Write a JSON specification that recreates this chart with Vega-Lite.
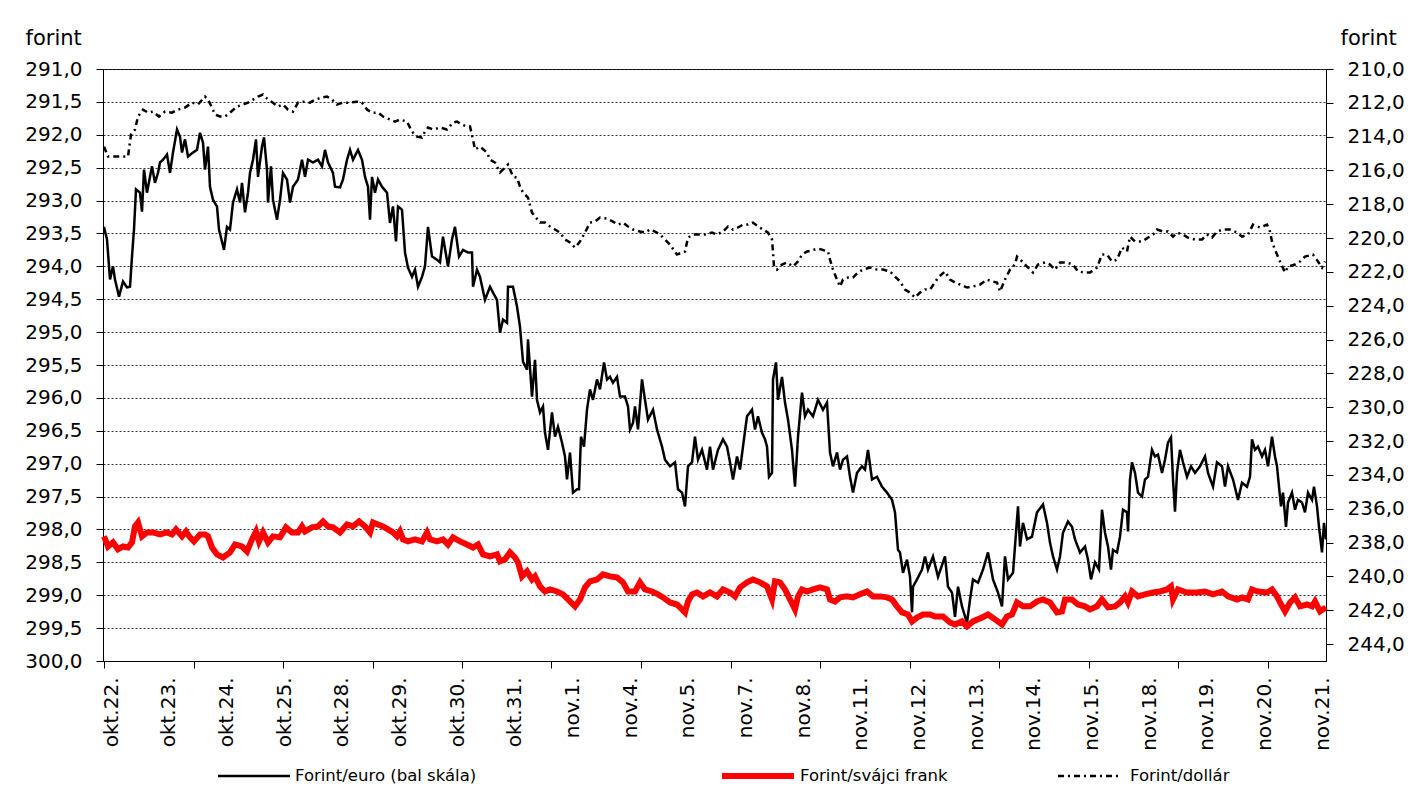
{
"$schema": "https://vega.github.io/schema/vega-lite/v6.json",
"width": 1223,
"height": 592,
"autosize": {"type": "none"},
"padding": {"left": 103, "top": 69, "right": 94, "bottom": 135},
"background": "white",
"config": {
  "font": "DejaVu Sans",
  "view": {"stroke": "black", "strokeWidth": 1},
  "axis": {"labelFont": "DejaVu Sans", "labelColor": "black", "titleColor": "black", "domainColor": "black", "tickColor": "black", "labelFontSize": 20, "titleFont": "DejaVu Sans", "titleFontWeight": "normal", "titleFontSize": 21},
  "legend": {"labelFont": "DejaVu Sans", "labelFontSize": 16.5, "labelColor": "black", "labelLimit": 400}
},
"datasets": {
"eur": [{"t":0,"v":293.40},{"t":3,"v":293.59},{"t":6,"v":294.20},{"t":9,"v":294.00},{"t":11,"v":294.20},{"t":15,"v":294.46},{"t":19,"v":294.23},{"t":23,"v":294.32},{"t":26,"v":294.31},{"t":28,"v":293.85},{"t":30,"v":293.44},{"t":32,"v":292.83},{"t":36,"v":292.88},{"t":38,"v":293.17},{"t":40,"v":292.53},{"t":43,"v":292.88},{"t":46,"v":292.64},{"t":48,"v":292.48},{"t":51,"v":292.73},{"t":54,"v":292.58},{"t":56,"v":292.42},{"t":59,"v":292.38},{"t":63,"v":292.30},{"t":66,"v":292.58},{"t":69,"v":292.27},{"t":73,"v":291.92},{"t":76,"v":292.03},{"t":78,"v":292.27},{"t":81,"v":292.07},{"t":84,"v":292.33},{"t":89,"v":292.27},{"t":93,"v":292.23},{"t":96,"v":291.97},{"t":99,"v":292.12},{"t":101,"v":292.53},{"t":104,"v":292.18},{"t":106,"v":292.79},{"t":109,"v":292.99},{"t":113,"v":293.09},{"t":115,"v":293.44},{"t":120,"v":293.75},{"t":123,"v":293.40},{"t":126,"v":293.44},{"t":129,"v":293.03},{"t":133,"v":292.83},{"t":136,"v":293.03},{"t":138,"v":292.73},{"t":141,"v":293.18},{"t":144,"v":292.88},{"t":146,"v":292.58},{"t":149,"v":292.38},{"t":152,"v":292.07},{"t":154,"v":292.64},{"t":158,"v":292.18},{"t":160,"v":292.04},{"t":163,"v":292.53},{"t":164,"v":293.03},{"t":167,"v":292.48},{"t":169,"v":292.99},{"t":173,"v":293.29},{"t":176,"v":292.99},{"t":179,"v":292.58},{"t":183,"v":292.68},{"t":186,"v":293.03},{"t":189,"v":292.79},{"t":194,"v":292.68},{"t":198,"v":292.38},{"t":201,"v":292.64},{"t":204,"v":292.38},{"t":209,"v":292.42},{"t":214,"v":292.38},{"t":218,"v":292.48},{"t":221,"v":292.23},{"t":224,"v":292.42},{"t":229,"v":292.58},{"t":231,"v":292.79},{"t":236,"v":292.80},{"t":239,"v":292.68},{"t":243,"v":292.38},{"t":246,"v":292.23},{"t":249,"v":292.38},{"t":254,"v":292.23},{"t":258,"v":292.38},{"t":261,"v":292.64},{"t":264,"v":292.79},{"t":266,"v":293.29},{"t":268,"v":292.64},{"t":271,"v":292.88},{"t":274,"v":292.68},{"t":278,"v":292.79},{"t":283,"v":292.88},{"t":286,"v":293.34},{"t":289,"v":293.09},{"t":292,"v":293.62},{"t":294,"v":293.09},{"t":298,"v":293.14},{"t":301,"v":293.79},{"t":304,"v":294.02},{"t":308,"v":294.16},{"t":311,"v":294.05},{"t":314,"v":294.31},{"t":318,"v":294.16},{"t":321,"v":294.00},{"t":324,"v":293.40},{"t":328,"v":293.85},{"t":333,"v":293.90},{"t":336,"v":293.94},{"t":339,"v":293.55},{"t":344,"v":294.00},{"t":348,"v":293.59},{"t":351,"v":293.40},{"t":355,"v":293.85},{"t":359,"v":293.75},{"t":364,"v":293.79},{"t":368,"v":293.79},{"t":369,"v":294.31},{"t":373,"v":294.05},{"t":376,"v":294.16},{"t":381,"v":294.51},{"t":386,"v":294.31},{"t":389,"v":294.40},{"t":393,"v":294.51},{"t":396,"v":295.01},{"t":399,"v":294.81},{"t":403,"v":294.86},{"t":404,"v":294.31},{"t":409,"v":294.31},{"t":413,"v":294.61},{"t":416,"v":294.92},{"t":419,"v":295.45},{"t":423,"v":295.57},{"t":424,"v":295.11},{"t":428,"v":295.98},{"t":431,"v":295.42},{"t":433,"v":296.03},{"t":436,"v":296.22},{"t":439,"v":296.13},{"t":441,"v":296.53},{"t":444,"v":296.79},{"t":448,"v":296.22},{"t":451,"v":296.59},{"t":454,"v":296.44},{"t":458,"v":296.68},{"t":461,"v":296.89},{"t":463,"v":297.24},{"t":466,"v":296.83},{"t":469,"v":297.44},{"t":473,"v":297.39},{"t":475,"v":297.39},{"t":477,"v":296.59},{"t":480,"v":296.74},{"t":483,"v":296.18},{"t":486,"v":295.87},{"t":489,"v":296.03},{"t":493,"v":295.72},{"t":496,"v":295.87},{"t":500,"v":295.46},{"t":503,"v":295.72},{"t":506,"v":295.68},{"t":509,"v":295.77},{"t":513,"v":295.68},{"t":516,"v":295.98},{"t":521,"v":295.98},{"t":524,"v":296.13},{"t":526,"v":296.48},{"t":529,"v":296.38},{"t":531,"v":296.13},{"t":534,"v":296.48},{"t":538,"v":295.72},{"t":541,"v":296.03},{"t":544,"v":296.33},{"t":549,"v":296.18},{"t":553,"v":296.48},{"t":558,"v":296.74},{"t":561,"v":296.94},{"t":566,"v":297.04},{"t":571,"v":296.98},{"t":574,"v":297.39},{"t":578,"v":297.44},{"t":581,"v":297.65},{"t":584,"v":297.04},{"t":588,"v":296.98},{"t":591,"v":296.59},{"t":594,"v":296.94},{"t":598,"v":296.79},{"t":603,"v":297.09},{"t":606,"v":296.74},{"t":609,"v":297.09},{"t":614,"v":296.79},{"t":619,"v":296.63},{"t":623,"v":296.74},{"t":626,"v":296.98},{"t":629,"v":297.24},{"t":633,"v":296.89},{"t":636,"v":297.09},{"t":639,"v":296.74},{"t":643,"v":296.28},{"t":648,"v":296.18},{"t":651,"v":296.48},{"t":654,"v":296.28},{"t":658,"v":296.53},{"t":661,"v":296.63},{"t":663,"v":296.74},{"t":665,"v":297.20},{"t":668,"v":297.14},{"t":669,"v":295.72},{"t":672,"v":295.46},{"t":674,"v":296.03},{"t":678,"v":295.68},{"t":681,"v":296.07},{"t":684,"v":296.33},{"t":688,"v":296.79},{"t":691,"v":297.35},{"t":694,"v":296.59},{"t":698,"v":295.92},{"t":701,"v":296.28},{"t":704,"v":296.18},{"t":709,"v":296.28},{"t":714,"v":296.03},{"t":719,"v":296.18},{"t":723,"v":296.07},{"t":726,"v":296.83},{"t":729,"v":297.04},{"t":733,"v":296.83},{"t":736,"v":297.09},{"t":739,"v":296.94},{"t":743,"v":296.89},{"t":746,"v":297.20},{"t":749,"v":297.44},{"t":753,"v":297.14},{"t":758,"v":297.04},{"t":761,"v":297.09},{"t":764,"v":296.79},{"t":768,"v":297.24},{"t":773,"v":297.20},{"t":778,"v":297.35},{"t":783,"v":297.44},{"t":788,"v":297.55},{"t":791,"v":297.74},{"t":794,"v":298.31},{"t":796,"v":298.35},{"t":799,"v":298.66},{"t":803,"v":298.46},{"t":806,"v":298.72},{"t":808,"v":299.26},{"t":809,"v":298.87},{"t":813,"v":298.76},{"t":818,"v":298.61},{"t":821,"v":298.41},{"t":824,"v":298.61},{"t":829,"v":298.41},{"t":834,"v":298.72},{"t":841,"v":298.41},{"t":844,"v":298.87},{"t":848,"v":298.96},{"t":851,"v":299.33},{"t":854,"v":298.87},{"t":858,"v":299.17},{"t":863,"v":299.42},{"t":866,"v":299.07},{"t":869,"v":298.76},{"t":874,"v":298.81},{"t":879,"v":298.61},{"t":884,"v":298.35},{"t":889,"v":298.76},{"t":894,"v":298.96},{"t":898,"v":299.17},{"t":901,"v":298.41},{"t":904,"v":298.76},{"t":909,"v":298.66},{"t":912,"v":298.05},{"t":914,"v":297.65},{"t":916,"v":298.26},{"t":919,"v":297.90},{"t":923,"v":298.15},{"t":928,"v":298.11},{"t":933,"v":297.74},{"t":939,"v":297.62},{"t":943,"v":297.90},{"t":946,"v":298.20},{"t":949,"v":298.41},{"t":953,"v":298.61},{"t":956,"v":298.41},{"t":959,"v":298.05},{"t":964,"v":297.88},{"t":968,"v":297.96},{"t":971,"v":298.15},{"t":976,"v":298.35},{"t":981,"v":298.26},{"t":984,"v":298.46},{"t":987,"v":298.76},{"t":991,"v":298.50},{"t":995,"v":298.61},{"t":998,"v":297.70},{"t":1001,"v":298.05},{"t":1004,"v":298.26},{"t":1007,"v":298.61},{"t":1009,"v":298.31},{"t":1013,"v":298.35},{"t":1016,"v":298.11},{"t":1019,"v":297.70},{"t":1023,"v":297.74},{"t":1024,"v":298.03},{"t":1026,"v":297.24},{"t":1028,"v":296.98},{"t":1031,"v":297.14},{"t":1034,"v":297.44},{"t":1038,"v":297.50},{"t":1041,"v":297.24},{"t":1044,"v":297.20},{"t":1048,"v":296.79},{"t":1051,"v":296.89},{"t":1054,"v":296.86},{"t":1058,"v":297.14},{"t":1061,"v":296.94},{"t":1064,"v":296.68},{"t":1067,"v":296.60},{"t":1069,"v":297.24},{"t":1071,"v":297.73},{"t":1073,"v":297.14},{"t":1076,"v":296.79},{"t":1079,"v":296.98},{"t":1083,"v":297.20},{"t":1087,"v":297.04},{"t":1091,"v":297.14},{"t":1096,"v":297.04},{"t":1101,"v":296.89},{"t":1104,"v":297.14},{"t":1109,"v":297.35},{"t":1113,"v":296.98},{"t":1118,"v":297.04},{"t":1121,"v":297.35},{"t":1124,"v":297.04},{"t":1129,"v":297.24},{"t":1134,"v":297.55},{"t":1138,"v":297.29},{"t":1143,"v":297.35},{"t":1146,"v":297.20},{"t":1148,"v":296.63},{"t":1151,"v":296.79},{"t":1154,"v":296.74},{"t":1158,"v":296.89},{"t":1161,"v":296.79},{"t":1164,"v":297.04},{"t":1168,"v":296.59},{"t":1171,"v":296.89},{"t":1173,"v":297.04},{"t":1175,"v":297.35},{"t":1177,"v":297.65},{"t":1179,"v":297.44},{"t":1182,"v":297.96},{"t":1184,"v":297.59},{"t":1188,"v":297.44},{"t":1191,"v":297.70},{"t":1194,"v":297.55},{"t":1198,"v":297.59},{"t":1201,"v":297.74},{"t":1204,"v":297.44},{"t":1208,"v":297.55},{"t":1210,"v":297.35},{"t":1213,"v":297.65},{"t":1215,"v":297.96},{"t":1218,"v":298.35},{"t":1220,"v":297.90},{"t":1222,"v":298.15}],
"chf": [{"t":0,"v":237.63},{"t":4,"v":238.23},{"t":9,"v":237.99},{"t":14,"v":238.40},{"t":19,"v":238.23},{"t":24,"v":238.29},{"t":28,"v":237.99},{"t":31,"v":237.04},{"t":34,"v":236.81},{"t":38,"v":237.63},{"t":43,"v":237.40},{"t":49,"v":237.40},{"t":56,"v":237.52},{"t":63,"v":237.40},{"t":68,"v":237.52},{"t":72,"v":237.22},{"t":78,"v":237.63},{"t":82,"v":237.34},{"t":86,"v":237.69},{"t":90,"v":237.93},{"t":96,"v":237.52},{"t":101,"v":237.52},{"t":104,"v":237.63},{"t":108,"v":238.29},{"t":113,"v":238.70},{"t":119,"v":238.88},{"t":126,"v":238.58},{"t":131,"v":238.11},{"t":138,"v":238.23},{"t":143,"v":238.52},{"t":148,"v":237.81},{"t":152,"v":237.34},{"t":155,"v":237.93},{"t":159,"v":237.40},{"t":164,"v":237.99},{"t":169,"v":237.63},{"t":176,"v":237.69},{"t":182,"v":237.10},{"t":188,"v":237.40},{"t":194,"v":237.40},{"t":198,"v":237.04},{"t":201,"v":237.34},{"t":208,"v":237.10},{"t":214,"v":237.04},{"t":219,"v":236.75},{"t":224,"v":237.04},{"t":229,"v":237.10},{"t":236,"v":237.40},{"t":243,"v":236.93},{"t":249,"v":237.04},{"t":255,"v":236.75},{"t":261,"v":237.04},{"t":266,"v":237.40},{"t":269,"v":236.81},{"t":274,"v":236.93},{"t":279,"v":237.04},{"t":284,"v":237.22},{"t":289,"v":237.40},{"t":293,"v":237.63},{"t":296,"v":237.34},{"t":299,"v":237.81},{"t":304,"v":237.93},{"t":311,"v":237.81},{"t":318,"v":237.93},{"t":323,"v":237.40},{"t":326,"v":237.81},{"t":333,"v":237.93},{"t":339,"v":237.81},{"t":344,"v":238.11},{"t":349,"v":237.69},{"t":356,"v":237.93},{"t":363,"v":238.11},{"t":369,"v":238.29},{"t":374,"v":238.11},{"t":379,"v":238.70},{"t":386,"v":238.82},{"t":393,"v":238.70},{"t":396,"v":239.11},{"t":401,"v":238.99},{"t":406,"v":238.58},{"t":411,"v":238.88},{"t":414,"v":239.17},{"t":418,"v":240.00},{"t":423,"v":239.70},{"t":428,"v":240.18},{"t":431,"v":240.00},{"t":436,"v":240.59},{"t":441,"v":240.89},{"t":446,"v":240.77},{"t":453,"v":240.89},{"t":459,"v":241.06},{"t":466,"v":241.48},{"t":471,"v":241.77},{"t":476,"v":241.36},{"t":481,"v":240.65},{"t":486,"v":240.29},{"t":493,"v":240.18},{"t":499,"v":239.88},{"t":506,"v":240.00},{"t":513,"v":240.06},{"t":519,"v":240.35},{"t":524,"v":240.89},{"t":531,"v":240.89},{"t":536,"v":240.35},{"t":541,"v":240.77},{"t":548,"v":240.89},{"t":554,"v":241.06},{"t":559,"v":241.24},{"t":566,"v":241.54},{"t":573,"v":241.66},{"t":578,"v":241.95},{"t":581,"v":242.13},{"t":584,"v":241.48},{"t":588,"v":241.06},{"t":593,"v":240.95},{"t":599,"v":241.18},{"t":606,"v":240.95},{"t":613,"v":241.18},{"t":619,"v":240.77},{"t":626,"v":240.95},{"t":631,"v":241.18},{"t":636,"v":240.65},{"t":643,"v":240.35},{"t":649,"v":240.18},{"t":656,"v":240.35},{"t":663,"v":240.59},{"t":668,"v":241.36},{"t":671,"v":240.29},{"t":676,"v":240.35},{"t":681,"v":240.77},{"t":686,"v":241.36},{"t":691,"v":241.95},{"t":694,"v":241.18},{"t":698,"v":240.77},{"t":703,"v":240.89},{"t":709,"v":240.77},{"t":716,"v":240.65},{"t":723,"v":240.77},{"t":726,"v":241.36},{"t":731,"v":241.48},{"t":736,"v":241.24},{"t":743,"v":241.18},{"t":749,"v":241.24},{"t":756,"v":241.06},{"t":763,"v":240.89},{"t":769,"v":241.18},{"t":776,"v":241.18},{"t":783,"v":241.24},{"t":788,"v":241.36},{"t":793,"v":241.77},{"t":798,"v":242.13},{"t":804,"v":242.25},{"t":808,"v":242.66},{"t":813,"v":242.43},{"t":819,"v":242.25},{"t":826,"v":242.25},{"t":831,"v":242.37},{"t":839,"v":242.37},{"t":846,"v":242.72},{"t":851,"v":242.84},{"t":858,"v":242.66},{"t":863,"v":242.96},{"t":869,"v":242.66},{"t":878,"v":242.43},{"t":884,"v":242.25},{"t":891,"v":242.54},{"t":898,"v":242.84},{"t":903,"v":242.37},{"t":908,"v":242.25},{"t":913,"v":241.54},{"t":919,"v":241.77},{"t":926,"v":241.77},{"t":933,"v":241.48},{"t":939,"v":241.36},{"t":946,"v":241.54},{"t":953,"v":242.13},{"t":958,"v":242.07},{"t":961,"v":241.36},{"t":968,"v":241.36},{"t":974,"v":241.66},{"t":981,"v":241.77},{"t":986,"v":241.95},{"t":993,"v":241.77},{"t":998,"v":241.36},{"t":1004,"v":241.83},{"t":1011,"v":241.77},{"t":1016,"v":241.54},{"t":1021,"v":241.18},{"t":1024,"v":241.54},{"t":1028,"v":240.89},{"t":1034,"v":241.18},{"t":1041,"v":241.06},{"t":1049,"v":240.95},{"t":1056,"v":240.89},{"t":1063,"v":240.77},{"t":1067,"v":240.59},{"t":1069,"v":241.36},{"t":1074,"v":240.77},{"t":1083,"v":240.95},{"t":1093,"v":240.95},{"t":1101,"v":240.89},{"t":1109,"v":241.06},{"t":1118,"v":240.89},{"t":1124,"v":241.18},{"t":1133,"v":241.36},{"t":1138,"v":241.24},{"t":1144,"v":241.36},{"t":1148,"v":240.77},{"t":1154,"v":240.89},{"t":1163,"v":240.95},{"t":1168,"v":240.77},{"t":1173,"v":241.18},{"t":1176,"v":241.54},{"t":1181,"v":242.07},{"t":1186,"v":241.54},{"t":1191,"v":241.24},{"t":1196,"v":241.77},{"t":1203,"v":241.66},{"t":1208,"v":241.77},{"t":1211,"v":241.48},{"t":1216,"v":242.07},{"t":1222,"v":241.83}],
"usd": [{"t":0,"v":214.59},{"t":4,"v":215.18},{"t":11,"v":215.18},{"t":18,"v":215.18},{"t":24,"v":215.18},{"t":27,"v":213.88},{"t":31,"v":213.58},{"t":34,"v":212.81},{"t":39,"v":212.40},{"t":44,"v":212.58},{"t":49,"v":212.52},{"t":55,"v":212.81},{"t":61,"v":212.52},{"t":68,"v":212.58},{"t":74,"v":212.40},{"t":81,"v":212.28},{"t":88,"v":211.99},{"t":94,"v":212.10},{"t":101,"v":211.63},{"t":104,"v":211.81},{"t":108,"v":212.28},{"t":111,"v":212.69},{"t":116,"v":212.81},{"t":121,"v":212.81},{"t":126,"v":212.58},{"t":133,"v":212.22},{"t":139,"v":212.10},{"t":144,"v":211.99},{"t":149,"v":211.81},{"t":154,"v":211.63},{"t":159,"v":211.51},{"t":164,"v":211.81},{"t":169,"v":211.99},{"t":174,"v":212.22},{"t":179,"v":212.10},{"t":184,"v":212.40},{"t":189,"v":212.52},{"t":194,"v":211.99},{"t":199,"v":211.93},{"t":206,"v":211.99},{"t":211,"v":211.81},{"t":218,"v":211.69},{"t":223,"v":211.63},{"t":228,"v":211.81},{"t":233,"v":212.10},{"t":239,"v":211.99},{"t":246,"v":211.99},{"t":253,"v":211.93},{"t":258,"v":211.99},{"t":263,"v":212.40},{"t":268,"v":212.58},{"t":274,"v":212.58},{"t":279,"v":212.81},{"t":286,"v":212.99},{"t":291,"v":213.11},{"t":296,"v":212.99},{"t":303,"v":213.11},{"t":308,"v":213.70},{"t":313,"v":214.00},{"t":318,"v":214.05},{"t":321,"v":213.70},{"t":324,"v":213.46},{"t":329,"v":213.58},{"t":336,"v":213.46},{"t":343,"v":213.58},{"t":349,"v":213.17},{"t":353,"v":213.11},{"t":358,"v":213.29},{"t":363,"v":213.40},{"t":366,"v":213.40},{"t":369,"v":214.17},{"t":371,"v":214.76},{"t":376,"v":214.59},{"t":383,"v":214.94},{"t":386,"v":215.36},{"t":391,"v":215.53},{"t":396,"v":216.12},{"t":401,"v":215.83},{"t":404,"v":215.65},{"t":409,"v":216.36},{"t":413,"v":216.42},{"t":416,"v":216.95},{"t":419,"v":217.30},{"t":424,"v":217.60},{"t":428,"v":218.49},{"t":431,"v":218.72},{"t":436,"v":219.08},{"t":441,"v":219.08},{"t":446,"v":219.31},{"t":451,"v":219.49},{"t":456,"v":219.67},{"t":461,"v":220.08},{"t":466,"v":220.26},{"t":471,"v":220.56},{"t":476,"v":220.20},{"t":481,"v":219.67},{"t":486,"v":219.08},{"t":491,"v":219.02},{"t":496,"v":218.78},{"t":503,"v":218.84},{"t":509,"v":219.02},{"t":514,"v":219.20},{"t":519,"v":219.08},{"t":524,"v":219.31},{"t":529,"v":219.49},{"t":536,"v":219.61},{"t":541,"v":219.67},{"t":546,"v":219.49},{"t":551,"v":219.61},{"t":556,"v":219.79},{"t":561,"v":220.08},{"t":566,"v":220.38},{"t":573,"v":220.97},{"t":578,"v":220.85},{"t":581,"v":220.79},{"t":584,"v":219.97},{"t":589,"v":219.79},{"t":594,"v":219.79},{"t":601,"v":219.79},{"t":608,"v":219.67},{"t":613,"v":219.79},{"t":619,"v":219.61},{"t":624,"v":219.31},{"t":629,"v":219.49},{"t":634,"v":219.37},{"t":639,"v":219.20},{"t":644,"v":219.20},{"t":649,"v":219.08},{"t":654,"v":219.31},{"t":659,"v":219.49},{"t":664,"v":219.67},{"t":668,"v":220.08},{"t":669,"v":220.85},{"t":670,"v":221.68},{"t":673,"v":221.86},{"t":678,"v":221.56},{"t":683,"v":221.44},{"t":689,"v":221.68},{"t":694,"v":221.38},{"t":698,"v":220.97},{"t":703,"v":220.79},{"t":708,"v":220.73},{"t":713,"v":220.62},{"t":718,"v":220.68},{"t":724,"v":220.79},{"t":726,"v":221.27},{"t":729,"v":221.86},{"t":733,"v":222.45},{"t":736,"v":222.86},{"t":739,"v":222.45},{"t":744,"v":222.33},{"t":749,"v":222.33},{"t":754,"v":222.03},{"t":759,"v":221.86},{"t":766,"v":221.74},{"t":773,"v":221.86},{"t":779,"v":221.86},{"t":786,"v":221.97},{"t":791,"v":222.27},{"t":796,"v":222.56},{"t":801,"v":223.04},{"t":806,"v":223.22},{"t":811,"v":223.51},{"t":816,"v":223.22},{"t":821,"v":223.04},{"t":826,"v":223.04},{"t":831,"v":222.62},{"t":834,"v":222.33},{"t":841,"v":221.97},{"t":846,"v":222.45},{"t":851,"v":222.62},{"t":856,"v":222.74},{"t":863,"v":222.92},{"t":869,"v":222.86},{"t":876,"v":222.74},{"t":883,"v":222.45},{"t":888,"v":222.56},{"t":893,"v":222.62},{"t":896,"v":223.16},{"t":901,"v":222.45},{"t":906,"v":221.86},{"t":911,"v":221.56},{"t":913,"v":221.09},{"t":918,"v":221.38},{"t":923,"v":221.68},{"t":929,"v":222.03},{"t":934,"v":221.56},{"t":941,"v":221.44},{"t":946,"v":221.56},{"t":951,"v":221.86},{"t":956,"v":221.44},{"t":963,"v":221.44},{"t":969,"v":221.56},{"t":974,"v":221.97},{"t":981,"v":222.03},{"t":986,"v":222.03},{"t":993,"v":221.74},{"t":998,"v":220.97},{"t":1003,"v":220.97},{"t":1008,"v":221.38},{"t":1013,"v":221.27},{"t":1018,"v":220.56},{"t":1023,"v":220.79},{"t":1026,"v":219.91},{"t":1031,"v":220.20},{"t":1038,"v":220.20},{"t":1044,"v":219.97},{"t":1049,"v":219.79},{"t":1053,"v":219.49},{"t":1059,"v":219.61},{"t":1064,"v":219.61},{"t":1069,"v":219.91},{"t":1073,"v":219.67},{"t":1079,"v":219.79},{"t":1084,"v":219.97},{"t":1091,"v":220.08},{"t":1098,"v":220.08},{"t":1103,"v":219.79},{"t":1108,"v":219.97},{"t":1113,"v":219.61},{"t":1119,"v":219.49},{"t":1126,"v":219.49},{"t":1133,"v":219.67},{"t":1138,"v":219.91},{"t":1144,"v":219.79},{"t":1149,"v":219.20},{"t":1156,"v":219.37},{"t":1163,"v":219.20},{"t":1166,"v":219.61},{"t":1168,"v":220.20},{"t":1171,"v":220.68},{"t":1176,"v":221.38},{"t":1181,"v":222.03},{"t":1184,"v":221.68},{"t":1191,"v":221.56},{"t":1196,"v":221.38},{"t":1201,"v":221.09},{"t":1209,"v":220.97},{"t":1214,"v":221.38},{"t":1218,"v":221.74},{"t":1221,"v":221.38}]
},
"layer": [
  {
    "data": {"name": "eur"},
    "mark": {"type": "line", "strokeWidth": 2.5, "color": "#000000"},
    "encoding": {
      "x": {"field": "t", "type": "quantitative", "scale": {"domain": [-1, 1222], "nice": false, "zero": false},
        "axis": {"orient": "bottom", "title": null, "grid": false, "ticks": false, "tickSize": 0, "domain": true, "domainColor": "black", "labelPadding": 16, "labelAngle": 270, "labelAlign": "right", "labelBaseline": "middle", "labelFontSize": 20, "labelOverlap": false,
          "values": [7, 64.7, 122.4, 180, 237.7, 295.4, 353.1, 410.8, 468.4, 526.1, 583.8, 641.5, 699.2, 756.8, 814.5, 872.2, 929.9, 987.6, 1045.2, 1102.9, 1160.6, 1218.3],
          "labelExpr": "['okt.22.','okt.23.','okt.24.','okt.25.','okt.28.','okt.29.','okt.30.','okt.31.','nov.1.','nov.4.','nov.5.','nov.7.','nov.8.','nov.11.','nov.12.','nov.13.','nov.14.','nov.15.','nov.18.','nov.19.','nov.20.','nov.21.'][round((datum.value - 7) / 57.68)]"}},
      "y": {"field": "v", "type": "quantitative", "scale": {"domain": [291, 300], "reverse": true, "nice": false, "zero": false},
        "axis": {"orient": "left", "values": [291, 291.5, 292, 292.5, 293, 293.5, 294, 294.5, 295, 295.5, 296, 296.5, 297, 297.5, 298, 298.5, 299, 299.5, 300],
          "labelExpr": "replace(format(datum.value, '.1f'), '.', ',')", "tickSize": 7, "labelPadding": 14, "grid": true, "gridColor": "#333333", "gridDash": [2, 2], "gridWidth": 1, "domainColor": "black",
          "title": "forint", "titleAngle": 0, "titleAlign": "left", "titleBaseline": "alphabetic", "titleX": -78, "titleY": -25}},
      "strokeDash": {"datum": "Forint/euro (bal skála)",
        "scale": {"domain": ["Forint/euro (bal skála)"], "range": [[1, 0]]},
        "legend": {"orient": "none", "legendX": 113.5, "legendY": 669.5, "title": null, "symbolType": "stroke", "symbolSize": 5184, "symbolStrokeColor": "#000000", "symbolStrokeWidth": 2.5, "labelOffset": 3.5}}
    }
  },
  {
    "layer": [
      {
        "data": {"name": "chf"},
        "mark": {"type": "line", "strokeWidth": 6},
        "encoding": {
          "x": {"field": "t", "type": "quantitative", "scale": {"domain": [-1, 1222], "nice": false, "zero": false},
            "axis": {"orient": "bottom", "title": null, "grid": false, "labels": false, "domain": false, "ticks": true, "tickSize": 7, "tickColor": "black",
              "values": [0, 89.5, 179, 268.5, 358, 447.5, 537, 626.5, 716, 805.5, 895, 984.5, 1074, 1163.5]}},
          "y": {"field": "v", "type": "quantitative", "scale": {"domain": [210, 245], "reverse": true, "nice": false, "zero": false},
            "axis": {"orient": "right", "values": [210, 212, 214, 216, 218, 220, 222, 224, 226, 228, 230, 232, 234, 236, 238, 240, 242, 244],
              "labelExpr": "replace(format(datum.value, '.1f'), '.', ',')", "tickSize": 7, "labelPadding": 14, "grid": false, "domainColor": "black",
              "title": "forint", "titleAngle": 0, "titleAlign": "left", "titleBaseline": "alphabetic", "titleX": 14, "titleY": -25}},
          "color": {"datum": "Forint/svájci frank",
            "scale": {"domain": ["Forint/svájci frank"], "range": ["#ff0000"]},
            "legend": {"orient": "none", "legendX": 616, "legendY": 668, "title": null, "symbolType": "stroke", "symbolSize": 5184, "symbolStrokeWidth": 6, "labelOffset": 3}}
        }
      },
      {
        "data": {"name": "usd"},
        "mark": {"type": "line", "strokeWidth": 2.5, "color": "#000000"},
        "encoding": {
          "x": {"field": "t", "type": "quantitative", "scale": {"domain": [-1, 1222], "nice": false, "zero": false},
            "axis": {"orient": "bottom", "title": null, "grid": false, "labels": false, "domain": false, "ticks": true, "tickSize": 7, "tickColor": "black",
              "values": [0, 89.5, 179, 268.5, 358, 447.5, 537, 626.5, 716, 805.5, 895, 984.5, 1074, 1163.5]}},
          "y": {"field": "v", "type": "quantitative", "scale": {"domain": [210, 245], "reverse": true, "nice": false, "zero": false},
            "axis": {"orient": "right", "values": [210, 212, 214, 216, 218, 220, 222, 224, 226, 228, 230, 232, 234, 236, 238, 240, 242, 244],
              "labelExpr": "replace(format(datum.value, '.1f'), '.', ',')", "tickSize": 7, "labelPadding": 14, "grid": false, "domainColor": "black",
              "title": "forint", "titleAngle": 0, "titleAlign": "left", "titleBaseline": "alphabetic", "titleX": 14, "titleY": -25}},
          "strokeDash": {"datum": "Forint/dollár",
            "scale": {"domain": ["Forint/dollár"], "range": [[6, 4, 2, 4]]},
            "legend": {"orient": "none", "legendX": 953.5, "legendY": 673.5, "title": null, "symbolType": "stroke", "symbolSize": 4096, "symbolStrokeColor": "#000000", "symbolStrokeWidth": 2.5, "labelOffset": 6.5}}
        }
      }
    ]
  }
],
"resolve": {"scale": {"y": "independent", "strokeDash": "independent"}, "axis": {"x": "independent"}}
}
